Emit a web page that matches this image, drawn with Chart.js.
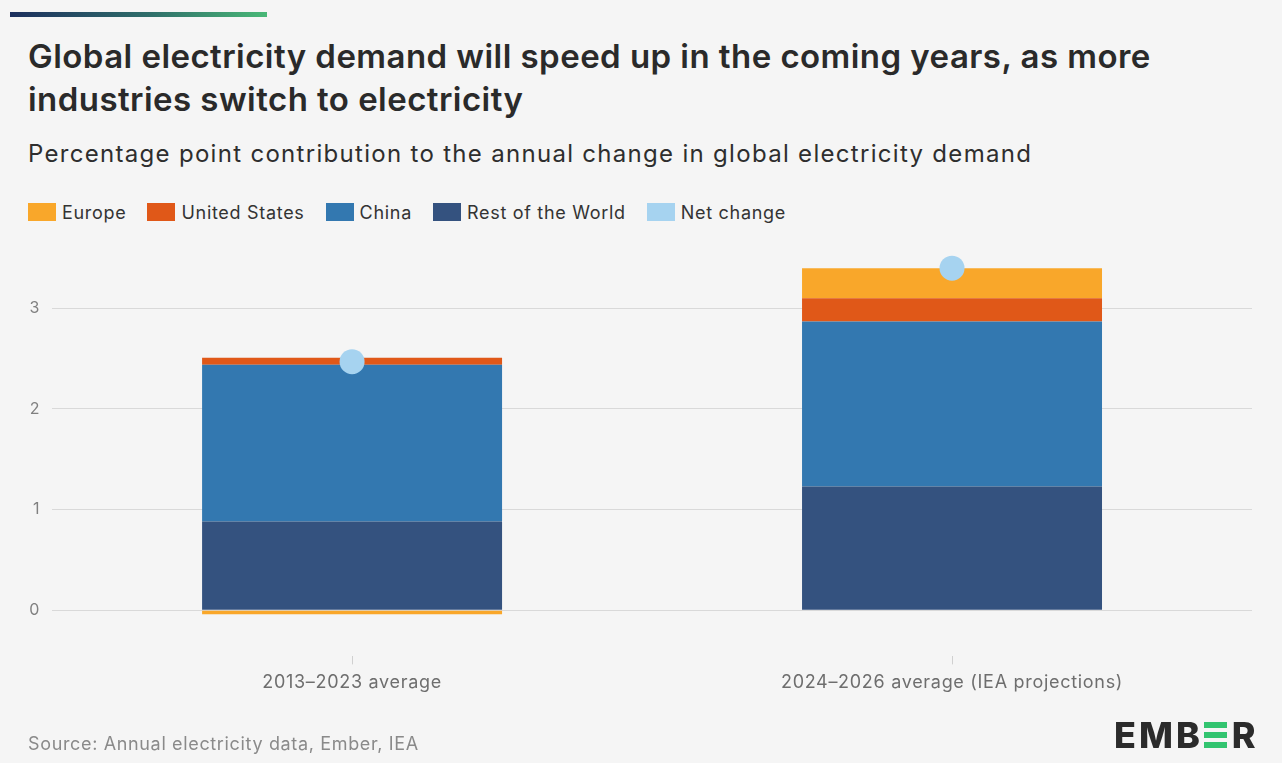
<!DOCTYPE html>
<html>
<head>
<meta charset="utf-8">
<script src="https://cdn.jsdelivr.net/npm/chart.js@4"></script>
<style>
  html, body { margin: 0; padding: 0; background: #f5f5f5; }
  body { width: 1282px; height: 763px; position: relative; overflow: hidden; font-family: Inter, "Noto Sans", sans-serif; }
  .topbar { position: absolute; left: 10px; top: 12px; width: 257px; height: 5px; background: linear-gradient(90deg, #1c2f5e, #2f6f6a 55%, #49b877); }
  h1 { position: absolute; left: 28px; top: 35px; margin: 0; font-size: 33px; line-height: 43px; font-weight: 600; color: #2a2a2a; letter-spacing: 0.45px; white-space: nowrap; }
  .sub { position: absolute; left: 28px; top: 139px; font-size: 24px; color: #2e2e2e; letter-spacing: 1.3px; white-space: nowrap; }
  #legend { position: absolute; left: 28px; top: 203px; display: flex; gap: 21px; font-size: 18px; color: #333; letter-spacing: 0.7px; }
  #legend .item { display: flex; align-items: center; height: 18px; }
  #legend .box { width: 28px; height: 18px; margin-right: 6px; }
  .source { position: absolute; left: 28px; top: 733px; font-size: 18px; color: #8a8a8a; letter-spacing: 0.65px; }
  .logo { position: absolute; left: 1114px; top: 713px; font-size: 36px; font-weight: 800; color: #2b2b2b; letter-spacing: 3px; white-space: nowrap; }
  .logo .e { display: inline-block; width: 23px; height: 26px; margin: 0 5px 0 1px;
    background: linear-gradient(#32c46f 0 6px, transparent 6px 10px, #32c46f 10px 16px, transparent 16px 20px, #32c46f 20px 26px); }
  #wrap { position: absolute; left: 0; top: 0; width: 1282px; height: 763px; }
</style>
</head>
<body>
<div class="topbar"></div>
<h1>Global electricity demand will speed up in the coming years, as more<br>industries switch to electricity</h1>
<div class="sub">Percentage point contribution to the annual change in global electricity demand</div>
<div id="legend"></div>
<div id="wrap"><canvas id="chart"></canvas></div>
<div class="source">Source: Annual electricity data, Ember, IEA</div>
<div class="logo">EMB<span class="e"></span>R</div>
<script>
const categories = ['2013–2023 average', '2024–2026 average (IEA projections)'];
const restOfWorld = [0.88, 1.23];
const china = [1.56, 1.64];
const unitedStates = [0.07, 0.23];
const europe = [-0.04, 0.30];
const netChange = [2.47, 3.40];
const yTicks = [0, 1, 2, 3];
const legendOrder = ['Europe', 'United States', 'China', 'Rest of the World', 'Net change'];

const barStyle = { stack: 'regions', order: 1, barPercentage: 1, categoryPercentage: 0.5, borderWidth: 0 };

const chart = new Chart(document.getElementById('chart'), {
  data: {
    labels: categories,
    datasets: [
      { type: 'bar', label: 'Rest of the World', data: restOfWorld, backgroundColor: '#34527f', ...barStyle },
      { type: 'bar', label: 'China', data: china, backgroundColor: '#3378b0', ...barStyle },
      { type: 'bar', label: 'United States', data: unitedStates, backgroundColor: '#e05818', ...barStyle },
      { type: 'bar', label: 'Europe', data: europe, backgroundColor: '#f9a72a', ...barStyle },
      { type: 'line', label: 'Net change', data: netChange, stack: 'net', order: 0, showLine: false,
        backgroundColor: '#a6d3f0', borderColor: '#a6d3f0', pointRadius: 12.5, pointHoverRadius: 12.5, borderWidth: 0 }
    ]
  },
  options: {
    responsive: true,
    maintainAspectRatio: false,
    animation: false,
    layout: { padding: { top: 244, left: 18, right: 30, bottom: 63 } },
    plugins: {
      tooltip: { enabled: false },
      legend: { display: false }
    },
    scales: {
      x: {
        stacked: true,
        grid: { display: true, drawOnChartArea: false, offset: false, tickLength: 8, color: '#d0d0d0' },
        border: { display: false },
        ticks: { color: '#6e6e6e', padding: 7, font: { family: 'Inter', size: 18 } }
      },
      y: {
        stacked: true,
        min: -0.46,
        max: 3.64,
        afterBuildTicks: (scale) => { scale.ticks = yTicks.map(v => ({ value: v })); },
        grid: { color: '#d9d9d9', drawTicks: false },
        border: { display: false },
        ticks: { color: '#808080', padding: 12, font: { family: 'Inter', size: 16 } }
      }
    }
  },
  plugins: [{
    id: 'spacing',
    beforeDraw: (c) => { c.ctx.letterSpacing = '0.7px'; }
  }]
});

// legend built from the chart's datasets
const legendEl = document.getElementById('legend');
legendOrder.forEach(name => {
  const ds = chart.data.datasets.find(d => d.label === name);
  const item = document.createElement('div');
  item.className = 'item';
  item.innerHTML = '<span class="box" style="background:' + ds.backgroundColor + '"></span><span>' + ds.label + '</span>';
  legendEl.appendChild(item);
});
</script>
</body>
</html>
